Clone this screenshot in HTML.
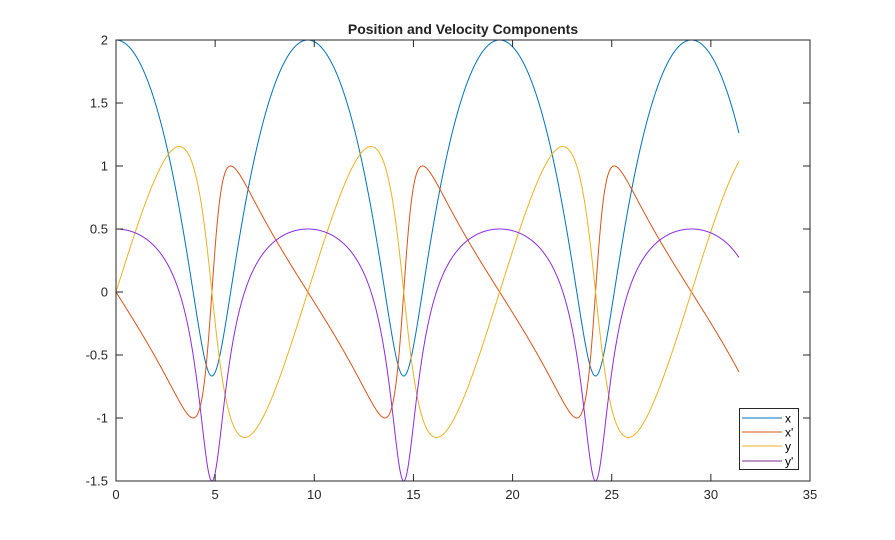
<!DOCTYPE html>
<html><head><meta charset="utf-8"><style>
body{margin:0;background:#fff}
svg{display:block;font-family:"Liberation Sans",sans-serif}
</style></head><body>
<svg id="s" width="895" height="540" xmlns="http://www.w3.org/2000/svg">
<rect width="895" height="540" fill="#fff"/>
<defs><clipPath id="c"><rect x="116" y="40" width="694" height="441"/></clipPath></defs>
<g id="g" clip-path="url(#c)"></g>
<g id="ax"></g>
<text x="463" y="34" text-anchor="middle" font-size="14" font-weight="bold" fill="#222">Position and Velocity Components</text>
</svg>
<script>
const X0=116,X1=810,Y0=40,Y1=481;
const sx=t=>X0+t/35*(X1-X0), sy=v=>Y0+(2-v)/3.5*(Y1-Y0);
const a=4/3,e=0.5,b=a*Math.sqrt(1-e*e),n=Math.pow(a,-1.5);
const P=[[],[],[],[]];
for(let i=0;i<=3000;i++){const t=10*Math.PI*i/3000;const M=Math.PI+n*t;let E=M;
for(let k=0;k<30;k++)E-= (E-e*Math.sin(E)-M)/(1-e*Math.cos(E));
const d=n/(1-e*Math.cos(E));
const v=[-a*(Math.cos(E)-e),a*Math.sin(E)*d,-b*Math.sin(E),-b*Math.cos(E)*d];
for(let j=0;j<4;j++)P[j].push(sx(t).toFixed(2)+","+sy(v[j]).toFixed(2));}
const cols=["#0072BD","#D95319","#EDB120","#7E2F8E"];
const lc=["#0072BD","#D95319","#EDB120","#8B2BE2"];
let h="";for(let j=0;j<4;j++)h+=`<polyline fill="none" stroke="${lc[j]}" stroke-width="1" points="${P[j].join(" ")}"/>`;
document.getElementById("g").innerHTML=h;
let A=`<rect x="${X0}" y="${Y0}" width="${X1-X0}" height="${Y1-Y0}" fill="none" stroke="#262626" stroke-width="1"/>`;
for(let t=0;t<=35;t+=5){const x=sx(t);A+=`<line x1="${x}" y1="${Y1}" x2="${x}" y2="${Y1-7}" stroke="#262626"/><line x1="${x}" y1="${Y0}" x2="${x}" y2="${Y0+7}" stroke="#262626"/><text x="${x}" y="${Y1+18}" text-anchor="middle" font-size="13" fill="#262626">${t}</text>`;}
for(let v=-1.5;v<=2.001;v+=0.5){const y=sy(v);A+=`<line x1="${X0}" y1="${y}" x2="${X0+7}" y2="${y}" stroke="#262626"/><line x1="${X1}" y1="${y}" x2="${X1-7}" y2="${y}" stroke="#262626"/><text x="${X0-8}" y="${y+4.5}" text-anchor="end" font-size="13" fill="#262626">${Math.round(v*10)/10}</text>`;}
A+=`<rect x="739.5" y="408.5" width="59" height="61" fill="#fff" stroke="#262626"/>`;
const L=["x","x'","y","y'"];const ly=[418,432,446,461];
for(let j=0;j<4;j++){const y=ly[j];A+=`<line x1="742" y1="${y}" x2="782" y2="${y}" stroke="${cols[j]}"/><text x="785" y="${y+4.5}" font-size="12" fill="#000">${L[j]}</text>`;}
document.getElementById("ax").innerHTML=A;
</script>
</body></html>
